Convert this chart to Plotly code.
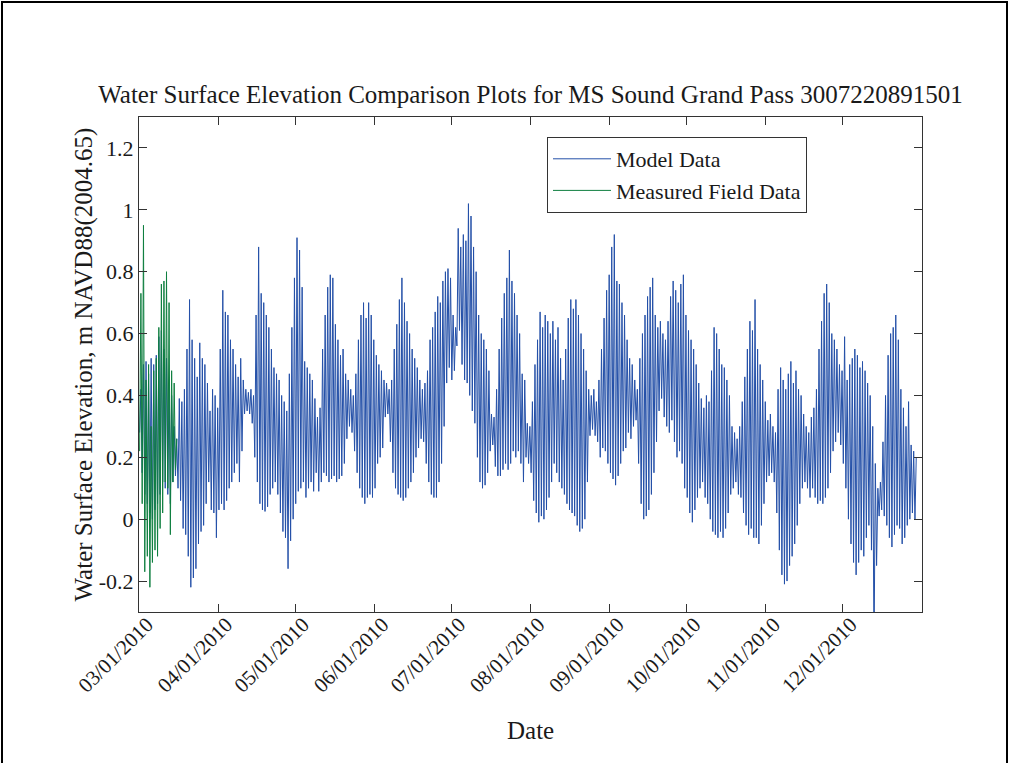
import datetime as dt
import plotly.graph_objects as go

# ---------------------------------------------------------------------------
# Daily tidal extremes (m, NAVD88 2004.65) for MS Sound Grand Pass, 2010.
# One high and one low per day (diurnal tide), month by month.
# ---------------------------------------------------------------------------
START = dt.datetime(2010, 3, 1)

model_high_mar = [0.42, 0.50, 0.51, 0.47, 0.52, 0.50, 0.53, 0.59, 0.61, 0.55, 0.52, 0.44, 0.40, 0.30, 0.26, 0.39,
                  0.38, 0.42, 0.55, 0.71, 0.58, 0.52, 0.46, 0.57, 0.52, 0.50, 0.44, 0.35, 0.42, 0.40, 0.36]
model_low_mar = [0.28, 0.15, 0.08, 0.05, 0.02, 0.00, 0.03, 0.05, 0.08, 0.12, 0.10, 0.08, 0.05, 0.12, 0.14, 0.10,
                 0.06, -0.03, -0.05, -0.12, -0.22, -0.19, -0.16, -0.08, -0.04, -0.02, 0.05, 0.12, 0.03, 0.02, -0.06]

model_high_apr = [0.55, 0.74, 0.67, 0.66, 0.58, 0.55, 0.50, 0.46, 0.52, 0.45, 0.42, 0.41, 0.42, 0.40, 0.66,
                  0.88, 0.73, 0.70, 0.66, 0.62, 0.55, 0.49, 0.47, 0.45, 0.40, 0.38, 0.35, 0.47, 0.62, 0.78]
model_low_apr = [0.03, 0.05, 0.03, 0.06, 0.10, 0.12, 0.15, 0.18, 0.12, 0.22, 0.34, 0.35, 0.34, 0.31, 0.20,
                 0.12, 0.05, 0.03, 0.025, 0.04, 0.08, 0.10, 0.12, 0.08, 0.02, -0.04, -0.06, -0.16, -0.07, 0.00]

model_high_may = [0.91, 0.87, 0.75, 0.51, 0.49, 0.47, 0.45, 0.39, 0.33, 0.36, 0.55, 0.66, 0.75, 0.79, 0.78, 0.63,
                  0.58, 0.53, 0.55, 0.47, 0.45, 0.42, 0.40, 0.47, 0.58, 0.66, 0.70, 0.65, 0.70, 0.66, 0.58]
model_low_may = [0.05, 0.09, 0.10, 0.12, 0.07, 0.10, 0.12, 0.09, 0.15, 0.09, 0.12, 0.15, 0.14, 0.12, 0.13, 0.14,
                 0.12, 0.13, 0.14, 0.18, 0.26, 0.30, 0.28, 0.22, 0.15, 0.10, 0.07, 0.05, 0.07, 0.08, 0.07]

model_high_jun = [0.53, 0.50, 0.48, 0.45, 0.44, 0.42, 0.45, 0.55, 0.63, 0.71, 0.78, 0.70, 0.64, 0.60, 0.55,
                  0.52, 0.49, 0.45, 0.42, 0.44, 0.48, 0.58, 0.62, 0.67, 0.72, 0.70, 0.77, 0.80, 0.81, 0.78]
model_low_jun = [0.10, 0.18, 0.20, 0.23, 0.33, 0.34, 0.25, 0.15, 0.10, 0.08, 0.07, 0.06, 0.07, 0.10, 0.12,
                 0.15, 0.20, 0.23, 0.26, 0.25, 0.18, 0.12, 0.08, 0.07, 0.07, 0.12, 0.18, 0.30, 0.44, 0.49]

model_high_jul = [0.66, 0.62, 0.94, 0.88, 0.92, 0.90, 1.02, 0.98, 0.88, 0.80, 0.66, 0.60, 0.58, 0.55, 0.48, 0.34,
                  0.33, 0.42, 0.55, 0.65, 0.73, 0.78, 0.87, 0.77, 0.73, 0.66, 0.60, 0.47, 0.45, 0.31, 0.30]
model_low_jul = [0.45, 0.48, 0.56, 0.61, 0.50, 0.45, 0.44, 0.40, 0.35, 0.31, 0.20, 0.12, 0.10, 0.11, 0.15, 0.22,
                 0.24, 0.17, 0.14, 0.14, 0.16, 0.18, 0.16, 0.18, 0.22, 0.20, 0.22, 0.18, 0.12, 0.20, 0.18]

model_high_aug = [0.38, 0.50, 0.58, 0.67, 0.62, 0.66, 0.64, 0.60, 0.64, 0.58, 0.62, 0.52, 0.45, 0.55, 0.65, 0.71,
                  0.68, 0.71, 0.66, 0.60, 0.55, 0.48, 0.42, 0.40, 0.42, 0.38, 0.45, 0.55, 0.65, 0.74, 0.79]
model_low_aug = [0.15, 0.06, 0.02, -0.01, 0.01, 0.00, 0.03, 0.07, 0.12, 0.18, 0.15, 0.12, 0.10, 0.08, 0.05, 0.03,
                 0.02, 0.01, -0.02, -0.04, -0.03, 0.00, 0.12, 0.27, 0.29, 0.27, 0.25, 0.20, 0.23, 0.22, 0.18]

model_high_sep = [0.88, 0.92, 0.77, 0.76, 0.70, 0.66, 0.58, 0.52, 0.50, 0.45, 0.42, 0.52, 0.60, 0.66, 0.72,
                  0.75, 0.78, 0.66, 0.62, 0.64, 0.60, 0.58, 0.64, 0.72, 0.77, 0.74, 0.70, 0.76, 0.79, 0.66]
model_low_sep = [0.15, 0.13, 0.11, 0.14, 0.18, 0.22, 0.23, 0.28, 0.26, 0.30, 0.32, 0.18, 0.05, 0.00, 0.01,
                 0.03, 0.08, 0.15, 0.25, 0.35, 0.39, 0.33, 0.30, 0.28, 0.32, 0.25, 0.20, 0.22, 0.18, 0.10]

model_high_oct = [0.61, 0.58, 0.55, 0.50, 0.44, 0.39, 0.36, 0.40, 0.38, 0.48, 0.62, 0.60, 0.55, 0.50, 0.49, 0.45,
                  0.40, 0.30, 0.28, 0.26, 0.30, 0.38, 0.46, 0.55, 0.64, 0.61, 0.71, 0.55, 0.50, 0.45, 0.38]
model_low_oct = [0.07, 0.02, -0.01, 0.03, 0.07, 0.10, 0.12, 0.07, 0.05, 0.00, -0.04, -0.05, -0.06, -0.04, -0.06,
                 -0.03, 0.02, 0.08, 0.10, 0.12, 0.08, 0.07, 0.02, -0.02, -0.05, -0.03, -0.06, -0.06, -0.08, -0.02,
                 0.05]

model_high_nov = [0.32, 0.34, 0.30, 0.28, 0.42, 0.49, 0.45, 0.42, 0.47, 0.51, 0.44, 0.48, 0.42, 0.40, 0.34,
                  0.30, 0.28, 0.33, 0.36, 0.42, 0.55, 0.64, 0.73, 0.76, 0.70, 0.60, 0.58, 0.55, 0.50, 0.48]
model_low_nov = [0.12, 0.14, 0.15, 0.12, 0.02, -0.10, -0.18, -0.21, -0.20, -0.15, -0.12, -0.08, -0.02, 0.05, 0.10,
                 0.12, 0.10, 0.07, 0.10, 0.07, 0.05, 0.06, 0.05, 0.07, 0.10, 0.15, 0.22, 0.25, 0.28, 0.24]

model_high_dec = [0.59, 0.45, 0.50, 0.52, 0.55, 0.53, 0.49, 0.51, 0.48, 0.44, 0.40, 0.30, 0.18, 0.10, 0.12,
                  0.25, 0.40, 0.53, 0.60, 0.62, 0.66, 0.58, 0.42, 0.36, 0.30, 0.38, 0.24, 0.22, 0.20]
model_low_dec = [0.18, 0.10, 0.00, -0.08, -0.14, -0.18, -0.14, -0.10, -0.12, -0.06, -0.02, -0.10, -0.45, -0.15,
                 0.01, 0.03, 0.01, -0.02, -0.06, -0.09, -0.05, -0.02, -0.03, -0.08, -0.06, -0.02, 0.00, 0.02, 0.00]

# Field gauge record (first two weeks of March only)
measured_high = [0.73, 0.95, 0.45, 0.50, 0.30, 0.48, 0.52, 0.62, 0.76, 0.77, 0.80, 0.70, 0.48, 0.44, 0.26]
measured_low = [0.22, 0.05, -0.17, -0.12, -0.22, -0.14, -0.10, -0.12, -0.03, 0.02, 0.12, 0.10, -0.05, 0.12, 0.16]

tick_dates = ["2010-03-01", "2010-04-01", "2010-05-01", "2010-06-01", "2010-07-01",
              "2010-08-01", "2010-09-01", "2010-10-01", "2010-11-01", "2010-12-01"]
tick_labels = ["03/01/2010", "04/01/2010", "05/01/2010", "06/01/2010", "07/01/2010",
               "08/01/2010", "09/01/2010", "10/01/2010", "11/01/2010", "12/01/2010"]
y_ticks = [-0.2, 0, 0.2, 0.4, 0.6, 0.8, 1, 1.2]
y_tick_labels = ["-0.2", "0", "0.2", "0.4", "0.6", "0.8", "1", "1.2"]


def tide_series(highs, lows):
    """Interleave each day's low (06:00) and high (18:00) into one time series."""
    t, v = [], []
    for day, (hi, lo) in enumerate(zip(highs, lows)):
        base = START + dt.timedelta(days=day)
        t += [base + dt.timedelta(hours=6), base + dt.timedelta(hours=18)]
        v += [lo, hi]
    return t, v


model_high = (model_high_mar + model_high_apr + model_high_may + model_high_jun + model_high_jul +
              model_high_aug + model_high_sep + model_high_oct + model_high_nov + model_high_dec)
model_low = (model_low_mar + model_low_apr + model_low_may + model_low_jun + model_low_jul +
             model_low_aug + model_low_sep + model_low_oct + model_low_nov + model_low_dec)

mt, mv = tide_series(model_high, model_low)
ft, fv = tide_series(measured_high, measured_low)

SERIF = "Liberation Serif, Times New Roman, serif"
INK = "#1a1a1a"
AXIS = "#333333"

fig = go.Figure()
fig.add_trace(go.Scatter(x=mt, y=mv, mode="lines", name="Model Data",
                         line=dict(color="#2450a8", width=1)))
fig.add_trace(go.Scatter(x=ft, y=fv, mode="lines", name="Measured Field Data",
                         line=dict(color="#0f7f40", width=1)))

L, R, T, B = 139, 89, 117, 151
W, H = 1011, 763
pw, ph = W - L - R, H - T - B

fig.update_layout(
    width=W, height=H,
    margin=dict(l=L, r=R, t=T, b=B),
    paper_bgcolor="white", plot_bgcolor="white",
    font=dict(family=SERIF, color=INK, size=22),
    title=dict(text="Water Surface Elevation Comparison Plots for MS Sound Grand Pass 3007220891501",
               font=dict(family=SERIF, size=25, color=INK),
               x=0.5, xref="paper", xanchor="center",
               y=(H - 94) / H, yanchor="middle"),
    showlegend=True,
    legend=dict(x=(547 - L) / pw, y=(H - B - 137) / ph, xanchor="left", yanchor="top",
                bgcolor="white", bordercolor=AXIS, borderwidth=1,
                font=dict(family=SERIF, size=22, color=INK),
                itemwidth=58, tracegroupgap=0),
    xaxis=dict(type="date",
               range=["2010-03-01", "2011-01-01"],
               tickmode="array", tickvals=tick_dates, ticktext=tick_labels,
               tickangle=-45, ticks="inside", ticklen=8, tickcolor=AXIS,
               ticklabelshift=8, ticklabelstandoff=-9,
               showline=True, linecolor=AXIS, linewidth=1, mirror="ticks",
               showgrid=False, zeroline=False,
               tickfont=dict(family=SERIF, size=21, color=INK)),
    yaxis=dict(range=[-0.3, 1.3],
               tickmode="array", tickvals=y_ticks, ticktext=y_tick_labels,
               ticks="inside", ticklen=8, tickcolor=AXIS,
               showline=True, linecolor=AXIS, linewidth=1, mirror="ticks",
               showgrid=False, zeroline=False,
               tickfont=dict(family=SERIF, size=22, color=INK)),
    annotations=[
        dict(text="Water Surface Elevation, m NAVD88(2004.65)", textangle=-90,
             xref="paper", yref="paper", x=(83 - L) / pw, y=0.5,
             xanchor="center", yanchor="middle", showarrow=False,
             font=dict(family=SERIF, size=25, color=INK)),
        dict(text="Date", xref="paper", yref="paper",
             x=0.5, y=(H - B - 730) / ph, xanchor="center", yanchor="middle",
             showarrow=False, font=dict(family=SERIF, size=25, color=INK)),
    ],
    shapes=[
        # figure frame
        dict(type="rect", xref="paper", yref="paper", layer="above",
             x0=(2 - L) / pw, x1=(1007 - L) / pw,
             y0=(H - B - 775) / ph, y1=(H - B - 2) / ph,
             line=dict(color="black", width=2), fillcolor="rgba(0,0,0,0)"),
    ],
)

fig.write_html("out.html")
